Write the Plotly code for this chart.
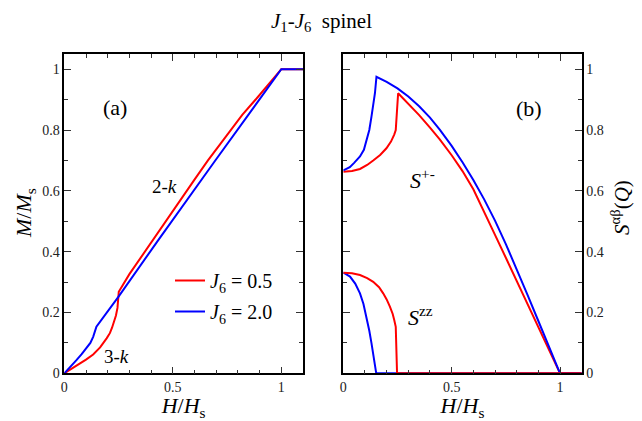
import plotly.graph_objects as go

# ---- Data ----
# Panel (a): magnetization curves M/Ms vs H/Hs
h_m_red = [0, 0.03, 0.057, 0.1, 0.133, 0.165, 0.195, 0.21, 0.22, 0.23, 0.238, 0.245, 0.249, 0.251,
           0.3, 0.409, 0.5, 0.6, 0.662, 0.75, 0.82, 0.89, 0.95, 1.0, 1.1]
m_red = [0, 0.013, 0.027, 0.045, 0.062, 0.085, 0.115, 0.132, 0.150, 0.17, 0.19, 0.215, 0.24, 0.268,
         0.326, 0.44, 0.535, 0.637, 0.70, 0.785, 0.85, 0.907, 0.958, 1.0, 1.0]
h_m_blue = [0, 0.03, 0.057, 0.08, 0.103, 0.12, 0.133, 0.141, 0.148, 0.25, 0.429, 0.69, 0.912, 1.0, 1.1]
m_blue = [0, 0.022, 0.044, 0.063, 0.085, 0.1, 0.12, 0.138, 0.153, 0.252, 0.434, 0.694, 0.912, 1.0, 1.0]

# Panel (b): structure factors S^{+-} and S^{zz}
h_spm_red = [0, 0.04, 0.077, 0.11, 0.138, 0.17, 0.199, 0.22, 0.235, 0.242, 0.253,
             0.3, 0.35, 0.4, 0.445, 0.5, 0.55, 0.6, 0.65, 0.7, 0.75, 0.8, 0.85, 0.9, 0.95, 1.0, 1.1]
spm_red = [0.663, 0.665, 0.672, 0.685, 0.70, 0.718, 0.74, 0.762, 0.785, 0.80, 0.921,
           0.887, 0.849, 0.808, 0.769, 0.717, 0.665, 0.605, 0.532, 0.455, 0.38, 0.303, 0.227, 0.151, 0.075, 0.0, 0.0]
h_spm_blue = [0, 0.03, 0.05, 0.077, 0.095, 0.107, 0.12, 0.13, 0.14, 0.146, 0.153,
              0.2, 0.25, 0.3, 0.35, 0.4, 0.445, 0.5, 0.55, 0.6, 0.65, 0.7, 0.75, 0.8, 0.85, 0.9, 0.95, 1.0, 1.1]
spm_blue = [0.667, 0.678, 0.692, 0.713, 0.735, 0.767, 0.80, 0.844, 0.885, 0.921, 0.975,
            0.958, 0.937, 0.91, 0.878, 0.841, 0.801, 0.748, 0.694, 0.636, 0.572, 0.502, 0.425, 0.343,
            0.258, 0.172, 0.086, 0.0, 0.0]
h_szz_red = [0, 0.04, 0.077, 0.11, 0.138, 0.165, 0.184, 0.2, 0.215, 0.228, 0.235, 0.242, 0.248, 0.5, 1.1]
szz_red = [0.331, 0.329, 0.323, 0.313, 0.301, 0.283, 0.263, 0.243, 0.219, 0.195, 0.175, 0.153, 0.0, 0.0, 0.0]
h_szz_blue = [0, 0.031, 0.055, 0.077, 0.093, 0.107, 0.12, 0.13, 0.14, 0.146, 0.152, 0.5, 1.1]
szz_blue = [0.331, 0.318, 0.295, 0.263, 0.228, 0.186, 0.14, 0.099, 0.055, 0.022, 0.0, 0.0, 0.0]

RED = "#ff0000"
BLUE = "#0000ff"
FONT = "Liberation Serif, Times New Roman, serif"

# page has an 8px body margin: build a figure that fits inside the window
OFF = 8
W, H = 642 - OFF, 421 - OFF


def px(x):
    return (x - OFF) / W


def py(y):
    return (H - (y - OFF)) / H


fig = go.Figure()
lw = 2
fig.add_trace(go.Scatter(x=h_m_red, y=m_red, mode="lines", line=dict(color=RED, width=lw),
                         name="<i>J</i><sub>6</sub> = 0.5", xaxis="x", yaxis="y", legend="legend"))
fig.add_trace(go.Scatter(x=h_m_blue, y=m_blue, mode="lines", line=dict(color=BLUE, width=lw),
                         name="<i>J</i><sub>6</sub> = 2.0", xaxis="x", yaxis="y", legend="legend2"))
fig.add_trace(go.Scatter(x=h_spm_red, y=spm_red, mode="lines", line=dict(color=RED, width=lw),
                         showlegend=False, xaxis="x2", yaxis="y2"))
fig.add_trace(go.Scatter(x=h_spm_blue, y=spm_blue, mode="lines", line=dict(color=BLUE, width=lw),
                         showlegend=False, xaxis="x2", yaxis="y2"))
fig.add_trace(go.Scatter(x=h_szz_blue, y=szz_blue, mode="lines", line=dict(color=BLUE, width=lw),
                         showlegend=False, xaxis="x2", yaxis="y2"))
fig.add_trace(go.Scatter(x=h_szz_red, y=szz_red, mode="lines", line=dict(color=RED, width=lw),
                         showlegend=False, xaxis="x2", yaxis="y2"))

ydom = [py(373.3), py(54)]
x1dom = [px(64.3), px(303)]
x2dom = [px(343.3), px(581.7)]

common = dict(showline=True, linecolor="black", linewidth=1.5, mirror="allticks",
              ticks="inside", ticklen=7, tickwidth=1, tickcolor="#333",
              showgrid=False, zeroline=False, automargin=False,
              tickfont=dict(family=FONT, size=14, color="#222"))
xax = dict(common, range=[0, 1.1], dtick=0.5, tick0=0,
           minor=dict(dtick=0.1, ticks="inside", ticklen=4, tickcolor="#333", showgrid=False),
           title=dict(text="<i>H</i>/<i>H</i><sub>s</sub>",
                      font=dict(family=FONT, size=22, color="black"), standoff=6))
yax = dict(common, range=[0, 1.05], dtick=0.2, tick0=0,
           minor=dict(dtick=0.1, ticks="inside", ticklen=4, tickcolor="#333", showgrid=False))

leg_common = dict(xanchor="left", yanchor="top", bgcolor="rgba(0,0,0,0)",
                  font=dict(family=FONT, size=20, color="black"))
fig.update_layout(
    width=W, height=H,
    margin=dict(l=0, r=0, t=0, b=0, autoexpand=False),
    paper_bgcolor="white", plot_bgcolor="white",
    xaxis=dict(xax, domain=x1dom, anchor="y"),
    yaxis=dict(yax, domain=ydom, anchor="x"),
    xaxis2=dict(xax, domain=x2dom, anchor="y2"),
    yaxis2=dict(yax, domain=ydom, anchor="x2", side="right"),
    showlegend=True,
    legend=dict(leg_common, x=px(170), y=py(261)),
    legend2=dict(leg_common, x=px(170), y=py(292)),
    font=dict(family=FONT),
)

ann_font = dict(family=FONT, size=22, color="black")


def ann(text, x, y, xref, yref, font, angle=0):
    fig.add_annotation(text=text, x=x, y=y, xref=xref, yref=yref, showarrow=False,
                       xanchor="center", yanchor="middle", font=font, textangle=angle)


ann("<i>J</i><sub>1</sub>-<i>J</i><sub>6</sub>  spinel", px(321), py(22), "paper", "paper",
    dict(family=FONT, size=21, color="black"))
ann("<i>M</i>/<i>M</i><sub>s</sub>", px(25), py(213), "paper", "paper", ann_font, -90)
ann("<i>S</i><sup>αβ</sup>(<i>Q</i>)", px(621), py(208), "paper", "paper",
    dict(family=FONT, size=21, color="black"), -90)
ann("(a)", 0.233, 0.873, "x", "y", ann_font)
ann("(b)", 0.858, 0.87, "x2", "y2", ann_font)
ann("2-<i>k</i>", 0.46, 0.613, "x", "y", dict(family=FONT, size=19, color="black"))
ann("3-<i>k</i>", 0.242, 0.054, "x", "y", dict(family=FONT, size=19, color="black"))
ann("<i>S</i><sup>+-</sup>", 0.365, 0.64, "x2", "y2", ann_font)
ann("<i>S</i><sup>zz</sup>", 0.358, 0.19, "x2", "y2", ann_font)

fig.write_html("out.html")
